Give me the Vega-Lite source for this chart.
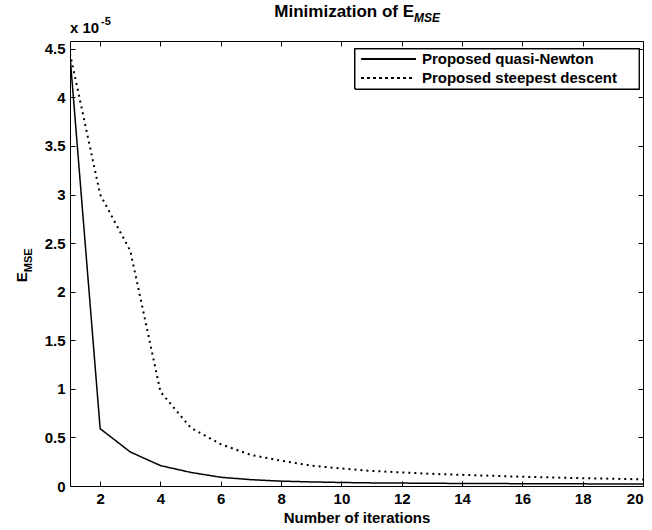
{
  "$schema": "https://vega.github.io/schema/vega-lite/v6.json",
  "width": 573,
  "height": 445,
  "autosize": {"type": "none"},
  "padding": {"left": 70, "top": 41, "right": 9, "bottom": 44},
  "background": "white",
  "config": {
    "view": {"stroke": null},
    "font": "Liberation Sans",
    "axis": {
      "domainColor": "black",
      "domainWidth": 1,
      "tickColor": "black",
      "tickSize": -5,
      "tickWidth": 1,
      "grid": false,
      "labelColor": "black",
      "labelFont": "Liberation Sans",
      "labelFontSize": 15,
      "labelFontWeight": "bold",
      "labelPadding": 10,
      "titleColor": "black",
      "titleFont": "Liberation Sans",
      "titleFontSize": 15,
      "titleFontWeight": "bold"
    }
  },
  "data": {
    "values": [
      {"iter": 1, "series": "Proposed quasi-Newton", "E": 4.43},
      {"iter": 2, "series": "Proposed quasi-Newton", "E": 0.59},
      {"iter": 3, "series": "Proposed quasi-Newton", "E": 0.35},
      {"iter": 4, "series": "Proposed quasi-Newton", "E": 0.21},
      {"iter": 5, "series": "Proposed quasi-Newton", "E": 0.14},
      {"iter": 6, "series": "Proposed quasi-Newton", "E": 0.09},
      {"iter": 7, "series": "Proposed quasi-Newton", "E": 0.065},
      {"iter": 8, "series": "Proposed quasi-Newton", "E": 0.05},
      {"iter": 9, "series": "Proposed quasi-Newton", "E": 0.042},
      {"iter": 10, "series": "Proposed quasi-Newton", "E": 0.036},
      {"iter": 11, "series": "Proposed quasi-Newton", "E": 0.032},
      {"iter": 12, "series": "Proposed quasi-Newton", "E": 0.03},
      {"iter": 13, "series": "Proposed quasi-Newton", "E": 0.028},
      {"iter": 14, "series": "Proposed quasi-Newton", "E": 0.026},
      {"iter": 15, "series": "Proposed quasi-Newton", "E": 0.025},
      {"iter": 16, "series": "Proposed quasi-Newton", "E": 0.024},
      {"iter": 17, "series": "Proposed quasi-Newton", "E": 0.023},
      {"iter": 18, "series": "Proposed quasi-Newton", "E": 0.022},
      {"iter": 19, "series": "Proposed quasi-Newton", "E": 0.021},
      {"iter": 20, "series": "Proposed quasi-Newton", "E": 0.02},
      {"iter": 1, "series": "Proposed steepest descent", "E": 4.45},
      {"iter": 2, "series": "Proposed steepest descent", "E": 3.0},
      {"iter": 3, "series": "Proposed steepest descent", "E": 2.42},
      {"iter": 4, "series": "Proposed steepest descent", "E": 0.97},
      {"iter": 5, "series": "Proposed steepest descent", "E": 0.6},
      {"iter": 6, "series": "Proposed steepest descent", "E": 0.43},
      {"iter": 7, "series": "Proposed steepest descent", "E": 0.32},
      {"iter": 8, "series": "Proposed steepest descent", "E": 0.26},
      {"iter": 9, "series": "Proposed steepest descent", "E": 0.21},
      {"iter": 10, "series": "Proposed steepest descent", "E": 0.18},
      {"iter": 11, "series": "Proposed steepest descent", "E": 0.155},
      {"iter": 12, "series": "Proposed steepest descent", "E": 0.14},
      {"iter": 13, "series": "Proposed steepest descent", "E": 0.125},
      {"iter": 14, "series": "Proposed steepest descent", "E": 0.115},
      {"iter": 15, "series": "Proposed steepest descent", "E": 0.105},
      {"iter": 16, "series": "Proposed steepest descent", "E": 0.095},
      {"iter": 17, "series": "Proposed steepest descent", "E": 0.088},
      {"iter": 18, "series": "Proposed steepest descent", "E": 0.08},
      {"iter": 19, "series": "Proposed steepest descent", "E": 0.075},
      {"iter": 20, "series": "Proposed steepest descent", "E": 0.068}
    ]
  },
  "layer": [
    {
      "mark": {"type": "line", "color": "black", "clip": true},
      "encoding": {
        "x": {
          "field": "iter", "type": "quantitative",
          "scale": {"domain": [1, 20], "nice": false, "zero": false},
          "axis": {"orient": "bottom", "values": [2, 4, 6, 8, 10, 12, 14, 16, 18, 20], "title": "Number of iterations", "titlePadding": 4}
        },
        "y": {
          "field": "E", "type": "quantitative",
          "scale": {"domain": [0, 4.58], "nice": false},
          "axis": {"orient": "left", "values": [0, 0.5, 1, 1.5, 2, 2.5, 3, 3.5, 4, 4.5], "format": "~f", "title": null}
        },
        "strokeDash": {
          "field": "series", "type": "nominal",
          "scale": {"domain": ["Proposed quasi-Newton", "Proposed steepest descent"], "range": [[1, 0], [2, 4]]},
          "legend": null
        },
        "strokeWidth": {
          "field": "series", "type": "nominal",
          "scale": {"domain": ["Proposed quasi-Newton", "Proposed steepest descent"], "range": [1.5, 2]},
          "legend": null
        }
      }
    },
    {
      "mark": {"type": "line", "opacity": 0},
      "encoding": {
        "x": {"field": "iter", "type": "quantitative", "axis": {"orient": "top", "values": [2, 4, 6, 8, 10, 12, 14, 16, 18, 20], "labels": false, "title": null}},
        "y": {"field": "E", "type": "quantitative", "axis": {"orient": "right", "values": [0, 0.5, 1, 1.5, 2, 2.5, 3, 3.5, 4, 4.5], "labels": false, "title": null}}
      }
    },
    {
      "mark": {"type": "rect", "fill": "white", "stroke": "black", "strokeWidth": 1},
      "encoding": {
        "x": {"datum": 10.45, "type": "quantitative", "axis": null},
        "x2": {"datum": 19.87},
        "y": {"datum": 4.498, "type": "quantitative", "axis": null},
        "y2": {"datum": 4.086}
      }
    },
    {
      "mark": {"type": "rule", "color": "black", "strokeWidth": 1.5},
      "encoding": {
        "x": {"datum": 10.68, "type": "quantitative", "axis": null},
        "x2": {"datum": 12.47},
        "y": {"datum": 4.395, "type": "quantitative", "axis": null}
      }
    },
    {
      "mark": {"type": "rule", "color": "black", "strokeWidth": 2, "strokeDash": [2, 4]},
      "encoding": {
        "x": {"datum": 10.68, "type": "quantitative", "axis": null},
        "x2": {"datum": 12.47},
        "y": {"datum": 4.199, "type": "quantitative", "axis": null}
      }
    },
    {
      "data": {"values": [{"t": "Proposed quasi-Newton"}]},
      "mark": {"type": "text", "align": "left", "baseline": "middle", "fontSize": 15, "fontWeight": "bold", "color": "black"},
      "encoding": {"x": {"datum": 12.67, "type": "quantitative", "axis": null}, "y": {"datum": 4.395, "type": "quantitative", "axis": null}, "text": {"field": "t"}}
    },
    {
      "data": {"values": [{"t": "Proposed steepest descent"}]},
      "mark": {"type": "text", "align": "left", "baseline": "middle", "fontSize": 15, "fontWeight": "bold", "color": "black"},
      "encoding": {"x": {"datum": 12.67, "type": "quantitative", "axis": null}, "y": {"datum": 4.199, "type": "quantitative", "axis": null}, "text": {"field": "t"}}
    },
    {
      "data": {"values": [{"t": "Minimization of E"}]},
      "mark": {"type": "text", "align": "right", "baseline": "alphabetic", "fontSize": 17, "fontWeight": "bold", "dy": -24, "color": "black"},
      "encoding": {"x": {"datum": 12.41, "type": "quantitative", "axis": null}, "y": {"datum": 4.58, "type": "quantitative", "axis": null}, "text": {"field": "t"}}
    },
    {
      "data": {"values": [{"t": "MSE"}]},
      "mark": {"type": "text", "align": "left", "baseline": "alphabetic", "fontSize": 12, "fontWeight": "bold", "fontStyle": "italic", "dy": -19, "color": "black"},
      "encoding": {"x": {"datum": 12.41, "type": "quantitative", "axis": null}, "y": {"datum": 4.58, "type": "quantitative", "axis": null}, "text": {"field": "t"}}
    },
    {
      "data": {"values": [{"t": "x 10"}]},
      "mark": {"type": "text", "align": "left", "baseline": "alphabetic", "fontSize": 15, "fontWeight": "bold", "dy": -8, "color": "black"},
      "encoding": {"x": {"datum": 1, "type": "quantitative", "axis": null}, "y": {"datum": 4.58, "type": "quantitative", "axis": null}, "text": {"field": "t"}}
    },
    {
      "data": {"values": [{"t": "-5"}]},
      "mark": {"type": "text", "align": "left", "baseline": "alphabetic", "fontSize": 11, "fontWeight": "bold", "dx": 31, "dy": -16, "color": "black"},
      "encoding": {"x": {"datum": 1, "type": "quantitative", "axis": null}, "y": {"datum": 4.58, "type": "quantitative", "axis": null}, "text": {"field": "t"}}
    },
    {
      "data": {"values": [{"t": "E"}]},
      "mark": {"type": "text", "align": "right", "baseline": "alphabetic", "angle": 270, "fontSize": 15, "fontWeight": "bold", "dy": -43, "color": "black"},
      "encoding": {"x": {"datum": 1, "type": "quantitative", "axis": null}, "y": {"datum": 2.2, "type": "quantitative", "axis": null}, "text": {"field": "t"}}
    },
    {
      "data": {"values": [{"t": "MSE"}]},
      "mark": {"type": "text", "align": "left", "baseline": "alphabetic", "angle": 270, "fontSize": 11, "fontWeight": "bold", "dy": -38, "color": "black"},
      "encoding": {"x": {"datum": 1, "type": "quantitative", "axis": null}, "y": {"datum": 2.2, "type": "quantitative", "axis": null}, "text": {"field": "t"}}
    }
  ],
  "resolve": {"axis": {"x": "independent", "y": "independent"}}
}
